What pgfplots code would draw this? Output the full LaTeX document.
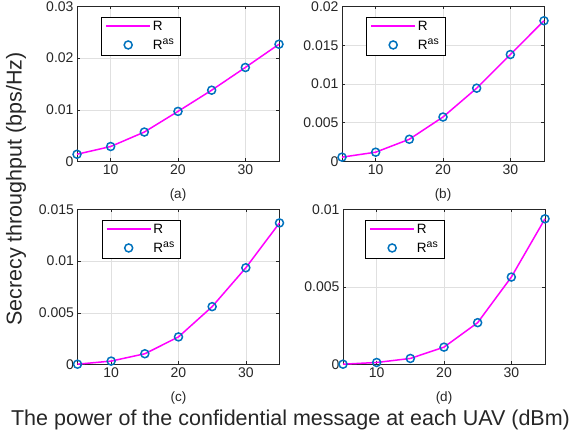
\documentclass[border=0pt]{standalone}
\usepackage{pgfplots}
\pgfplotsset{compat=1.18}
\usepackage{fontspec}
\setmainfont{Liberation Sans}
\definecolor{mblue}{rgb}{0,0.447,0.741}
\definecolor{mmag}{rgb}{1,0,1}
\definecolor{mgray}{rgb}{0.15,0.15,0.15}
\definecolor{mgrid}{rgb}{0.88,0.88,0.88}
\newcommand{\Ras}{R\raisebox{0.42em}{\fontsize{10.5}{12}\selectfont as}}
\pgfplotsset{
 panel/.style={
  scale only axis, width=202pt, height=155pt, anchor=south west,
  xmin=5, xmax=35, xtick={10,20,30}, ymin=0,
  scaled y ticks=false, scaled x ticks=false,
  axis line style={mgray, line width=0.5pt},
  tick style={mgray, line width=0.5pt}, tick align=inside, major tick length=3pt,
  grid=major, grid style={mgrid, line width=0.5pt},
  ticklabel style={font=\fontsize{14}{16}\selectfont, text=mgray},
  /pgf/number format/assume math mode=true,
  clip=false,
  legend style={at={(0.12,0.935)}, anchor=north west, draw=black, 
     font=\fontsize{13.5}{15}\selectfont, inner xsep=4pt, inner ysep=2pt,
     row sep=3pt, cells={anchor=west}},
 },
 rline/.style={color=mmag, line width=1.5pt, mark=none,
   legend image code/.code={\draw[color=mmag, line width=1.5pt] (0pt,0pt) -- (44pt,0pt);}},
 rmark/.style={only marks, mark=o, mark size=4pt, color=mblue, mark options={line width=1.5pt},
   legend image code/.code={\path[draw=none,fill=none] (0pt,-1pt) rectangle (44pt,1pt); \draw[color=mblue, line width=1.5pt] (22pt,0pt) circle (4pt);}},
}
\begin{document}
\begin{tikzpicture}
\useasboundingbox (0pt,0pt) rectangle (576pt,441pt);
% (a)
\begin{axis}[panel, at={(77pt,279.5pt)}, ymax=0.03,
  ytick={0,0.01,0.02,0.03}, yticklabels={0,0.01,0.02,0.03}]
\addplot[rline] coordinates {(5,0.0014)(10,0.0029)(15,0.0057)(20,0.0097)(25,0.0138)(30,0.0182)(35,0.0227)};
\addplot[rmark] coordinates {(5,0.0014)(10,0.0029)(15,0.0057)(20,0.0097)(25,0.0138)(30,0.0182)(35,0.0227)};
\legend{R, \Ras}
\node[font=\fontsize{13.5}{15}\selectfont, text=mgray] at (rel axis cs:0.5,0) [yshift=-34pt] {(a)};
\end{axis}
% (b)
\begin{axis}[panel, at={(342pt,279.5pt)}, ymax=0.02,
  ytick={0,0.005,0.01,0.015,0.02}, yticklabels={0,0.005,0.01,0.015,0.02}]
\addplot[rline] coordinates {(5,0.00056)(10,0.0012)(15,0.00287)(20,0.00574)(25,0.00946)(30,0.0138)(35,0.01816)};
\addplot[rmark] coordinates {(5,0.00056)(10,0.0012)(15,0.00287)(20,0.00574)(25,0.00946)(30,0.0138)(35,0.01816)};
\legend{R, \Ras}
\node[font=\fontsize{13.5}{15}\selectfont, text=mgray] at (rel axis cs:0.5,0) [yshift=-34pt] {(b)};
\end{axis}
% (c)
\begin{axis}[panel, at={(77.5pt,76.5pt)}, ymax=0.015,
  ytick={0,0.005,0.01,0.015}, yticklabels={0,0.005,0.01,0.015}]
\addplot[rline] coordinates {(5,0.00003)(10,0.00033)(15,0.00104)(20,0.00267)(25,0.0056)(30,0.00936)(35,0.0137)};
\addplot[rmark] coordinates {(5,0.00003)(10,0.00033)(15,0.00104)(20,0.00267)(25,0.0056)(30,0.00936)(35,0.0137)};
\legend{R, \Ras}
\node[font=\fontsize{13.5}{15}\selectfont, text=mgray] at (rel axis cs:0.5,0) [yshift=-34pt] {(c)};
\end{axis}
% (d)
\begin{axis}[panel, at={(343pt,76.5pt)}, ymax=0.01, legend style={at={(0.11,0.935)}},
  ytick={0,0.005,0.01}, yticklabels={0,0.005,0.01}]
\addplot[rline] coordinates {(5,0.00002)(10,0.00013)(15,0.00039)(20,0.00112)(25,0.0027)(30,0.00564)(35,0.0094)};
\addplot[rmark] coordinates {(5,0.00002)(10,0.00013)(15,0.00039)(20,0.00112)(25,0.0027)(30,0.00564)(35,0.0094)};
\legend{R, \Ras}
\node[font=\fontsize{13.5}{15}\selectfont, text=mgray] at (rel axis cs:0.5,0) [yshift=-34pt] {(d)};
\end{axis}
\node[font=\fontsize{21.5}{24}\selectfont, text=mgray] at (290.5pt,21pt) {The power of the confidential message at each UAV (dBm)};
\node[font=\fontsize{21.5}{24}\selectfont, text=mgray, rotate=90] at (16pt,252pt) {Secrecy throughput (bps/Hz)};
\end{tikzpicture}
\end{document}
